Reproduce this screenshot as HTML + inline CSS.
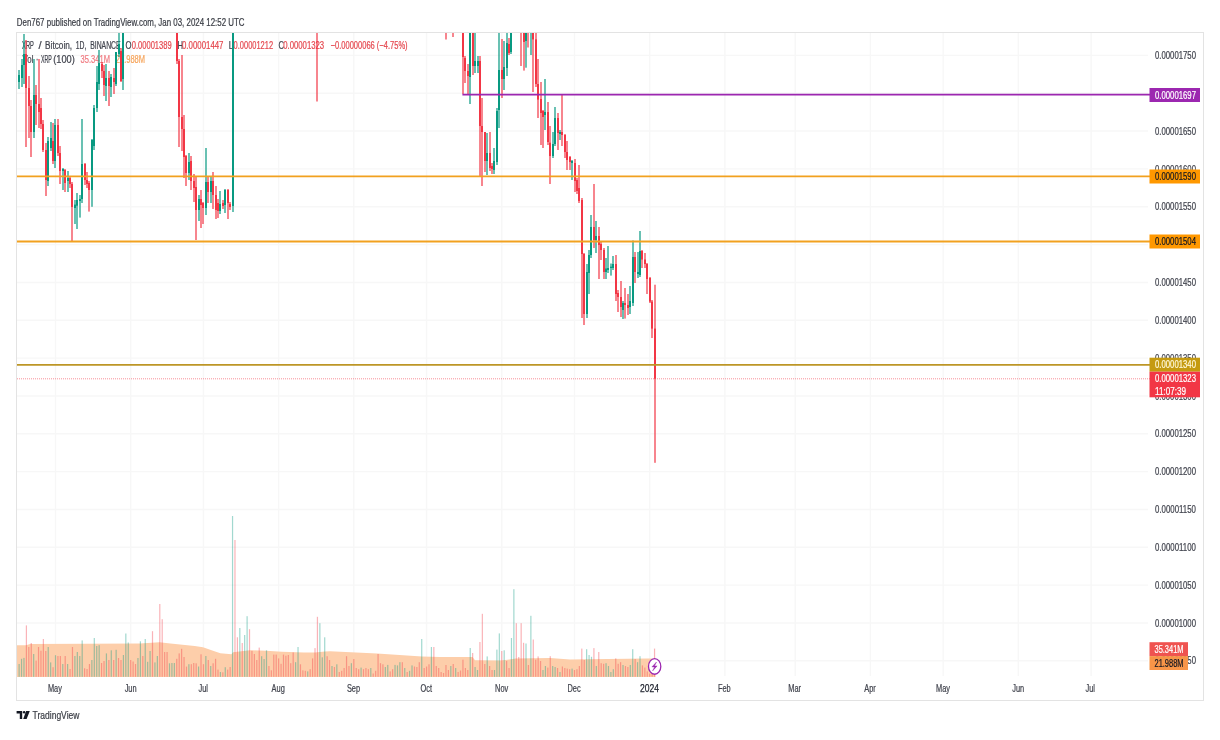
<!DOCTYPE html>
<html><head><meta charset="utf-8"><style>
html,body{margin:0;padding:0;background:#fff;width:1220px;height:740px;overflow:hidden}
svg{display:block;filter:blur(0.45px);font-family:"Liberation Sans", sans-serif}
</style></head><body>
<svg width="1220" height="740" viewBox="0 0 1220 740">
<defs><clipPath id="plotclip"><rect x="17" y="33" width="1131" height="643"/></clipPath></defs>
<rect width="1220" height="740" fill="#fff"/>
<rect x="16.5" y="32.5" width="1187" height="668" fill="none" stroke="#e3e3e3"/>
<g id="grid">
<line x1="17" y1="55.4" x2="1148" y2="55.4" stroke="#f7f7f7" stroke-width="1.4"/>
<line x1="17" y1="93.24" x2="1148" y2="93.24" stroke="#f7f7f7" stroke-width="1.4"/>
<line x1="17" y1="131.07" x2="1148" y2="131.07" stroke="#f7f7f7" stroke-width="1.4"/>
<line x1="17" y1="168.91" x2="1148" y2="168.91" stroke="#f7f7f7" stroke-width="1.4"/>
<line x1="17" y1="206.75" x2="1148" y2="206.75" stroke="#f7f7f7" stroke-width="1.4"/>
<line x1="17" y1="244.59" x2="1148" y2="244.59" stroke="#f7f7f7" stroke-width="1.4"/>
<line x1="17" y1="282.43" x2="1148" y2="282.43" stroke="#f7f7f7" stroke-width="1.4"/>
<line x1="17" y1="320.26" x2="1148" y2="320.26" stroke="#f7f7f7" stroke-width="1.4"/>
<line x1="17" y1="358.1" x2="1148" y2="358.1" stroke="#f7f7f7" stroke-width="1.4"/>
<line x1="17" y1="395.94" x2="1148" y2="395.94" stroke="#f7f7f7" stroke-width="1.4"/>
<line x1="17" y1="433.77" x2="1148" y2="433.77" stroke="#f7f7f7" stroke-width="1.4"/>
<line x1="17" y1="471.61" x2="1148" y2="471.61" stroke="#f7f7f7" stroke-width="1.4"/>
<line x1="17" y1="509.45" x2="1148" y2="509.45" stroke="#f7f7f7" stroke-width="1.4"/>
<line x1="17" y1="547.29" x2="1148" y2="547.29" stroke="#f7f7f7" stroke-width="1.4"/>
<line x1="17" y1="585.12" x2="1148" y2="585.12" stroke="#f7f7f7" stroke-width="1.4"/>
<line x1="17" y1="622.96" x2="1148" y2="622.96" stroke="#f7f7f7" stroke-width="1.4"/>
<line x1="17" y1="660.8" x2="1148" y2="660.8" stroke="#f7f7f7" stroke-width="1.4"/>
<line x1="55.5" y1="33" x2="55.5" y2="676" stroke="#f7f7f7" stroke-width="1.4"/>
<line x1="130.68" y1="33" x2="130.68" y2="676" stroke="#f7f7f7" stroke-width="1.4"/>
<line x1="203.44" y1="33" x2="203.44" y2="676" stroke="#f7f7f7" stroke-width="1.4"/>
<line x1="278.63" y1="33" x2="278.63" y2="676" stroke="#f7f7f7" stroke-width="1.4"/>
<line x1="353.81" y1="33" x2="353.81" y2="676" stroke="#f7f7f7" stroke-width="1.4"/>
<line x1="426.57" y1="33" x2="426.57" y2="676" stroke="#f7f7f7" stroke-width="1.4"/>
<line x1="501.76" y1="33" x2="501.76" y2="676" stroke="#f7f7f7" stroke-width="1.4"/>
<line x1="574.51" y1="33" x2="574.51" y2="676" stroke="#f7f7f7" stroke-width="1.4"/>
<line x1="649.7" y1="33" x2="649.7" y2="676" stroke="#f7f7f7" stroke-width="1.4"/>
<line x1="724.88" y1="33" x2="724.88" y2="676" stroke="#f7f7f7" stroke-width="1.4"/>
<line x1="795.22" y1="33" x2="795.22" y2="676" stroke="#f7f7f7" stroke-width="1.4"/>
<line x1="870.4" y1="33" x2="870.4" y2="676" stroke="#f7f7f7" stroke-width="1.4"/>
<line x1="943.16" y1="33" x2="943.16" y2="676" stroke="#f7f7f7" stroke-width="1.4"/>
<line x1="1018.34" y1="33" x2="1018.34" y2="676" stroke="#f7f7f7" stroke-width="1.4"/>
<line x1="1091.1" y1="33" x2="1091.1" y2="676" stroke="#f7f7f7" stroke-width="1.4"/>
</g>
<text x="22.1" y="48.8" font-size="10.5" fill="#40434d" text-anchor="start" font-weight="normal" textLength="11.8" lengthAdjust="spacingAndGlyphs" stroke="#40434d" stroke-width="0.22">XRP</text>
<text x="38.5" y="48.8" font-size="10.5" fill="#40434d" text-anchor="start" font-weight="normal" textLength="3.1" lengthAdjust="spacingAndGlyphs" stroke="#40434d" stroke-width="0.22">/</text>
<text x="45.1" y="48.8" font-size="10.5" fill="#40434d" text-anchor="start" font-weight="normal" textLength="27" lengthAdjust="spacingAndGlyphs" stroke="#40434d" stroke-width="0.22">Bitcoin,</text>
<text x="75.8" y="48.8" font-size="10.5" fill="#40434d" text-anchor="start" font-weight="normal" textLength="10.6" lengthAdjust="spacingAndGlyphs" stroke="#40434d" stroke-width="0.22">1D,</text>
<text x="90.2" y="48.8" font-size="10.5" fill="#40434d" text-anchor="start" font-weight="normal" textLength="30.4" lengthAdjust="spacingAndGlyphs" stroke="#40434d" stroke-width="0.22">BINANCE</text>
<text x="125.5" y="48.8" font-size="10.5" fill="#40434d" text-anchor="start" font-weight="normal" textLength="6" lengthAdjust="spacingAndGlyphs" stroke="#40434d" stroke-width="0.22">O</text>
<text x="131.7" y="48.8" font-size="10.5" fill="#e5484f" text-anchor="start" font-weight="normal" textLength="40" lengthAdjust="spacingAndGlyphs" stroke="#e5484f" stroke-width="0.22">0.00001389</text>
<text x="177.5" y="48.8" font-size="10.5" fill="#40434d" text-anchor="start" font-weight="normal" textLength="5.5" lengthAdjust="spacingAndGlyphs" stroke="#40434d" stroke-width="0.22">H</text>
<text x="182" y="48.8" font-size="10.5" fill="#e5484f" text-anchor="start" font-weight="normal" textLength="41.5" lengthAdjust="spacingAndGlyphs" stroke="#e5484f" stroke-width="0.22">0.00001447</text>
<text x="228.8" y="48.8" font-size="10.5" fill="#40434d" text-anchor="start" font-weight="normal" textLength="4.5" lengthAdjust="spacingAndGlyphs" stroke="#40434d" stroke-width="0.22">L</text>
<text x="233.6" y="48.8" font-size="10.5" fill="#e5484f" text-anchor="start" font-weight="normal" textLength="39.5" lengthAdjust="spacingAndGlyphs" stroke="#e5484f" stroke-width="0.22">0.00001212</text>
<text x="278.5" y="48.8" font-size="10.5" fill="#40434d" text-anchor="start" font-weight="normal" textLength="5.5" lengthAdjust="spacingAndGlyphs" stroke="#40434d" stroke-width="0.22">C</text>
<text x="283.2" y="48.8" font-size="10.5" fill="#e5484f" text-anchor="start" font-weight="normal" textLength="41" lengthAdjust="spacingAndGlyphs" stroke="#e5484f" stroke-width="0.22">0.00001323</text>
<text x="330.6" y="48.8" font-size="10.5" fill="#e5484f" text-anchor="start" font-weight="normal" textLength="77" lengthAdjust="spacingAndGlyphs" stroke="#e5484f" stroke-width="0.22">−0.00000066 (−4.75%)</text>
<text x="22.5" y="63.1" font-size="10.5" fill="#40434d" text-anchor="start" font-weight="normal" textLength="10.9" lengthAdjust="spacingAndGlyphs" stroke="#40434d" stroke-width="0.22">Vol</text>
<text x="35.9" y="63.1" font-size="10.5" fill="#40434d" text-anchor="start" font-weight="normal" textLength="2.2" lengthAdjust="spacingAndGlyphs" stroke="#40434d" stroke-width="0.22">·</text>
<text x="40.9" y="63.1" font-size="10.5" fill="#40434d" text-anchor="start" font-weight="normal" textLength="10.8" lengthAdjust="spacingAndGlyphs" stroke="#40434d" stroke-width="0.22">XRP</text>
<text x="53.2" y="63.1" font-size="10.5" fill="#40434d" text-anchor="start" font-weight="normal" textLength="21.6" lengthAdjust="spacingAndGlyphs" stroke="#40434d" stroke-width="0.22">(100)</text>
<text x="80.6" y="63.1" font-size="10.5" fill="#f07a80" text-anchor="start" font-weight="normal" textLength="29.4" lengthAdjust="spacingAndGlyphs" stroke="#f07a80" stroke-width="0.22">35.341M</text>
<text x="115.8" y="63.1" font-size="10.5" fill="#f6a45a" text-anchor="start" font-weight="normal" textLength="29.2" lengthAdjust="spacingAndGlyphs" stroke="#f6a45a" stroke-width="0.22">21.988M</text>
<g id="vol">
<polygon points="17,677 17,645.2 26,645.2 30,644 140,643.5 159.5,642.3 170.4,643.5 194.7,646 203,647.2 213,650.8 220.3,653.3 231.5,654.2 233,652.2 250,650.3 266,650.8 282,651.7 304,652.4 315,652.4 325,651.4 330,651.3 377,653.6 422,656.4 440,657.0 472.5,657.0 475,660.3 500,660.5 507.6,659.7 515.7,658.4 550,657.9 570,659.5 608,659 647,658.6 655.5,658.6 655.5,677" fill="#fdceaa"/>
<rect x="18.52" y="664.0" width="1.2" height="12.8" fill="rgba(8,153,129,0.38)"/>
<rect x="20.95" y="658.8" width="1.2" height="18.0" fill="rgba(8,153,129,0.38)"/>
<rect x="23.37" y="657.9" width="1.2" height="18.9" fill="rgba(8,153,129,0.38)"/>
<rect x="25.80" y="625.4" width="1.2" height="51.4" fill="rgba(242,54,69,0.38)"/>
<rect x="28.22" y="647.0" width="1.2" height="29.8" fill="rgba(242,54,69,0.38)"/>
<rect x="30.65" y="643.0" width="1.2" height="33.8" fill="rgba(242,54,69,0.38)"/>
<rect x="33.07" y="654.0" width="1.2" height="22.8" fill="rgba(8,153,129,0.38)"/>
<rect x="35.50" y="660.6" width="1.2" height="16.2" fill="rgba(242,54,69,0.38)"/>
<rect x="37.92" y="647.0" width="1.2" height="29.8" fill="rgba(242,54,69,0.38)"/>
<rect x="40.35" y="650.7" width="1.2" height="26.1" fill="rgba(242,54,69,0.38)"/>
<rect x="42.77" y="639.0" width="1.2" height="37.8" fill="rgba(242,54,69,0.38)"/>
<rect x="45.20" y="651.0" width="1.2" height="25.8" fill="rgba(242,54,69,0.38)"/>
<rect x="47.62" y="647.0" width="1.2" height="29.8" fill="rgba(8,153,129,0.38)"/>
<rect x="50.05" y="662.4" width="1.2" height="14.4" fill="rgba(8,153,129,0.38)"/>
<rect x="52.47" y="667.2" width="1.2" height="9.6" fill="rgba(242,54,69,0.38)"/>
<rect x="54.90" y="655.2" width="1.2" height="21.6" fill="rgba(8,153,129,0.38)"/>
<rect x="57.33" y="656.0" width="1.2" height="20.8" fill="rgba(242,54,69,0.38)"/>
<rect x="59.75" y="656.0" width="1.2" height="20.8" fill="rgba(242,54,69,0.38)"/>
<rect x="62.18" y="664.0" width="1.2" height="12.8" fill="rgba(8,153,129,0.38)"/>
<rect x="64.60" y="656.0" width="1.2" height="20.8" fill="rgba(242,54,69,0.38)"/>
<rect x="67.03" y="664.0" width="1.2" height="12.8" fill="rgba(8,153,129,0.38)"/>
<rect x="69.45" y="669.0" width="1.2" height="7.8" fill="rgba(242,54,69,0.38)"/>
<rect x="71.88" y="647.0" width="1.2" height="29.8" fill="rgba(242,54,69,0.38)"/>
<rect x="74.30" y="656.0" width="1.2" height="20.8" fill="rgba(8,153,129,0.38)"/>
<rect x="76.73" y="652.0" width="1.2" height="24.8" fill="rgba(8,153,129,0.38)"/>
<rect x="79.15" y="656.0" width="1.2" height="20.8" fill="rgba(8,153,129,0.38)"/>
<rect x="81.58" y="640.4" width="1.2" height="36.4" fill="rgba(8,153,129,0.38)"/>
<rect x="84.00" y="668.3" width="1.2" height="8.5" fill="rgba(242,54,69,0.38)"/>
<rect x="86.43" y="669.0" width="1.2" height="7.8" fill="rgba(242,54,69,0.38)"/>
<rect x="88.85" y="664.0" width="1.2" height="12.8" fill="rgba(242,54,69,0.38)"/>
<rect x="91.28" y="660.0" width="1.2" height="16.8" fill="rgba(8,153,129,0.38)"/>
<rect x="93.70" y="638.0" width="1.2" height="38.8" fill="rgba(8,153,129,0.38)"/>
<rect x="96.13" y="646.0" width="1.2" height="30.8" fill="rgba(8,153,129,0.38)"/>
<rect x="98.56" y="645.2" width="1.2" height="31.6" fill="rgba(8,153,129,0.38)"/>
<rect x="100.98" y="663.0" width="1.2" height="13.8" fill="rgba(242,54,69,0.38)"/>
<rect x="103.41" y="661.0" width="1.2" height="15.8" fill="rgba(242,54,69,0.38)"/>
<rect x="105.83" y="653.4" width="1.2" height="23.4" fill="rgba(8,153,129,0.38)"/>
<rect x="108.26" y="660.0" width="1.2" height="16.8" fill="rgba(242,54,69,0.38)"/>
<rect x="110.68" y="650.3" width="1.2" height="26.5" fill="rgba(8,153,129,0.38)"/>
<rect x="113.11" y="660.0" width="1.2" height="16.8" fill="rgba(242,54,69,0.38)"/>
<rect x="115.53" y="649.8" width="1.2" height="27.0" fill="rgba(8,153,129,0.38)"/>
<rect x="117.96" y="658.0" width="1.2" height="18.8" fill="rgba(242,54,69,0.38)"/>
<rect x="120.38" y="660.0" width="1.2" height="16.8" fill="rgba(242,54,69,0.38)"/>
<rect x="122.81" y="655.0" width="1.2" height="21.8" fill="rgba(8,153,129,0.38)"/>
<rect x="125.23" y="633.5" width="1.2" height="43.3" fill="rgba(8,153,129,0.38)"/>
<rect x="127.66" y="642.5" width="1.2" height="34.3" fill="rgba(8,153,129,0.38)"/>
<rect x="130.08" y="660.0" width="1.2" height="16.8" fill="rgba(242,54,69,0.38)"/>
<rect x="132.51" y="661.5" width="1.2" height="15.3" fill="rgba(242,54,69,0.38)"/>
<rect x="134.93" y="664.0" width="1.2" height="12.8" fill="rgba(242,54,69,0.38)"/>
<rect x="137.36" y="658.0" width="1.2" height="18.8" fill="rgba(8,153,129,0.38)"/>
<rect x="139.79" y="641.3" width="1.2" height="35.5" fill="rgba(8,153,129,0.38)"/>
<rect x="142.21" y="656.0" width="1.2" height="20.8" fill="rgba(242,54,69,0.38)"/>
<rect x="144.64" y="639.0" width="1.2" height="37.8" fill="rgba(8,153,129,0.38)"/>
<rect x="147.06" y="661.8" width="1.2" height="15.0" fill="rgba(8,153,129,0.38)"/>
<rect x="149.49" y="651.0" width="1.2" height="25.8" fill="rgba(8,153,129,0.38)"/>
<rect x="151.91" y="631.2" width="1.2" height="45.6" fill="rgba(242,54,69,0.38)"/>
<rect x="154.34" y="662.4" width="1.2" height="14.4" fill="rgba(8,153,129,0.38)"/>
<rect x="156.76" y="656.0" width="1.2" height="20.8" fill="rgba(8,153,129,0.38)"/>
<rect x="159.19" y="604.0" width="1.2" height="72.8" fill="rgba(242,54,69,0.38)"/>
<rect x="161.61" y="619.2" width="1.2" height="57.6" fill="rgba(242,54,69,0.38)"/>
<rect x="164.04" y="652.0" width="1.2" height="24.8" fill="rgba(242,54,69,0.38)"/>
<rect x="166.46" y="652.0" width="1.2" height="24.8" fill="rgba(242,54,69,0.38)"/>
<rect x="168.89" y="663.3" width="1.2" height="13.5" fill="rgba(8,153,129,0.38)"/>
<rect x="171.31" y="663.0" width="1.2" height="13.8" fill="rgba(8,153,129,0.38)"/>
<rect x="173.74" y="663.0" width="1.2" height="13.8" fill="rgba(8,153,129,0.38)"/>
<rect x="176.16" y="658.8" width="1.2" height="18.0" fill="rgba(242,54,69,0.38)"/>
<rect x="178.59" y="653.4" width="1.2" height="23.4" fill="rgba(242,54,69,0.38)"/>
<rect x="181.02" y="648.8" width="1.2" height="28.0" fill="rgba(242,54,69,0.38)"/>
<rect x="183.44" y="657.0" width="1.2" height="19.8" fill="rgba(242,54,69,0.38)"/>
<rect x="185.87" y="666.6" width="1.2" height="10.2" fill="rgba(242,54,69,0.38)"/>
<rect x="188.29" y="664.2" width="1.2" height="12.6" fill="rgba(8,153,129,0.38)"/>
<rect x="190.72" y="664.2" width="1.2" height="12.6" fill="rgba(242,54,69,0.38)"/>
<rect x="193.14" y="663.0" width="1.2" height="13.8" fill="rgba(242,54,69,0.38)"/>
<rect x="195.57" y="663.3" width="1.2" height="13.5" fill="rgba(242,54,69,0.38)"/>
<rect x="197.99" y="666.5" width="1.2" height="10.3" fill="rgba(8,153,129,0.38)"/>
<rect x="200.42" y="654.3" width="1.2" height="22.5" fill="rgba(242,54,69,0.38)"/>
<rect x="202.84" y="664.2" width="1.2" height="12.6" fill="rgba(242,54,69,0.38)"/>
<rect x="205.27" y="656.0" width="1.2" height="20.8" fill="rgba(8,153,129,0.38)"/>
<rect x="207.69" y="660.0" width="1.2" height="16.8" fill="rgba(242,54,69,0.38)"/>
<rect x="210.12" y="666.0" width="1.2" height="10.8" fill="rgba(8,153,129,0.38)"/>
<rect x="212.54" y="663.3" width="1.2" height="13.5" fill="rgba(242,54,69,0.38)"/>
<rect x="214.97" y="658.8" width="1.2" height="18.0" fill="rgba(242,54,69,0.38)"/>
<rect x="217.40" y="669.6" width="1.2" height="7.2" fill="rgba(242,54,69,0.38)"/>
<rect x="219.82" y="672.0" width="1.2" height="4.8" fill="rgba(8,153,129,0.38)"/>
<rect x="222.25" y="672.3" width="1.2" height="4.5" fill="rgba(242,54,69,0.38)"/>
<rect x="224.67" y="667.2" width="1.2" height="9.6" fill="rgba(8,153,129,0.38)"/>
<rect x="227.10" y="669.6" width="1.2" height="7.2" fill="rgba(242,54,69,0.38)"/>
<rect x="229.52" y="667.0" width="1.2" height="9.8" fill="rgba(242,54,69,0.38)"/>
<rect x="231.95" y="516.0" width="1.2" height="160.8" fill="rgba(8,153,129,0.38)"/>
<rect x="234.37" y="540.0" width="1.2" height="136.8" fill="rgba(242,54,69,0.38)"/>
<rect x="236.80" y="637.3" width="1.2" height="39.5" fill="rgba(242,54,69,0.38)"/>
<rect x="239.22" y="628.0" width="1.2" height="48.8" fill="rgba(8,153,129,0.38)"/>
<rect x="241.65" y="643.0" width="1.2" height="33.8" fill="rgba(242,54,69,0.38)"/>
<rect x="244.07" y="635.0" width="1.2" height="41.8" fill="rgba(8,153,129,0.38)"/>
<rect x="246.50" y="616.2" width="1.2" height="60.6" fill="rgba(8,153,129,0.38)"/>
<rect x="248.92" y="629.2" width="1.2" height="47.6" fill="rgba(242,54,69,0.38)"/>
<rect x="251.35" y="650.8" width="1.2" height="26.0" fill="rgba(242,54,69,0.38)"/>
<rect x="253.77" y="654.0" width="1.2" height="22.8" fill="rgba(242,54,69,0.38)"/>
<rect x="256.20" y="660.0" width="1.2" height="16.8" fill="rgba(242,54,69,0.38)"/>
<rect x="258.63" y="647.6" width="1.2" height="29.2" fill="rgba(242,54,69,0.38)"/>
<rect x="261.05" y="656.2" width="1.2" height="20.6" fill="rgba(8,153,129,0.38)"/>
<rect x="263.48" y="659.0" width="1.2" height="17.8" fill="rgba(8,153,129,0.38)"/>
<rect x="265.90" y="650.3" width="1.2" height="26.5" fill="rgba(8,153,129,0.38)"/>
<rect x="268.33" y="666.0" width="1.2" height="10.8" fill="rgba(242,54,69,0.38)"/>
<rect x="270.75" y="670.3" width="1.2" height="6.5" fill="rgba(242,54,69,0.38)"/>
<rect x="273.18" y="654.6" width="1.2" height="22.2" fill="rgba(242,54,69,0.38)"/>
<rect x="275.60" y="654.6" width="1.2" height="22.2" fill="rgba(242,54,69,0.38)"/>
<rect x="278.03" y="658.4" width="1.2" height="18.4" fill="rgba(242,54,69,0.38)"/>
<rect x="280.45" y="663.8" width="1.2" height="13.0" fill="rgba(242,54,69,0.38)"/>
<rect x="282.88" y="654.6" width="1.2" height="22.2" fill="rgba(242,54,69,0.38)"/>
<rect x="285.30" y="655.7" width="1.2" height="21.1" fill="rgba(242,54,69,0.38)"/>
<rect x="287.73" y="655.0" width="1.2" height="21.8" fill="rgba(242,54,69,0.38)"/>
<rect x="290.15" y="663.2" width="1.2" height="13.6" fill="rgba(242,54,69,0.38)"/>
<rect x="292.58" y="652.4" width="1.2" height="24.4" fill="rgba(242,54,69,0.38)"/>
<rect x="295.00" y="662.2" width="1.2" height="14.6" fill="rgba(8,153,129,0.38)"/>
<rect x="297.43" y="647.0" width="1.2" height="29.8" fill="rgba(8,153,129,0.38)"/>
<rect x="299.86" y="664.3" width="1.2" height="12.5" fill="rgba(242,54,69,0.38)"/>
<rect x="302.28" y="670.3" width="1.2" height="6.5" fill="rgba(242,54,69,0.38)"/>
<rect x="304.71" y="670.8" width="1.2" height="6.0" fill="rgba(242,54,69,0.38)"/>
<rect x="307.13" y="671.4" width="1.2" height="5.4" fill="rgba(8,153,129,0.38)"/>
<rect x="309.56" y="669.2" width="1.2" height="7.6" fill="rgba(242,54,69,0.38)"/>
<rect x="311.98" y="658.4" width="1.2" height="18.4" fill="rgba(242,54,69,0.38)"/>
<rect x="314.41" y="648.1" width="1.2" height="28.7" fill="rgba(242,54,69,0.38)"/>
<rect x="316.83" y="616.8" width="1.2" height="60.0" fill="rgba(242,54,69,0.38)"/>
<rect x="319.26" y="623.2" width="1.2" height="53.6" fill="rgba(8,153,129,0.38)"/>
<rect x="321.68" y="657.3" width="1.2" height="19.5" fill="rgba(8,153,129,0.38)"/>
<rect x="324.11" y="637.3" width="1.2" height="39.5" fill="rgba(8,153,129,0.38)"/>
<rect x="326.53" y="656.2" width="1.2" height="20.6" fill="rgba(242,54,69,0.38)"/>
<rect x="328.96" y="660.0" width="1.2" height="16.8" fill="rgba(242,54,69,0.38)"/>
<rect x="331.38" y="666.0" width="1.2" height="10.8" fill="rgba(8,153,129,0.38)"/>
<rect x="333.81" y="667.0" width="1.2" height="9.8" fill="rgba(242,54,69,0.38)"/>
<rect x="336.23" y="664.3" width="1.2" height="12.5" fill="rgba(8,153,129,0.38)"/>
<rect x="338.66" y="672.0" width="1.2" height="4.8" fill="rgba(242,54,69,0.38)"/>
<rect x="341.09" y="670.8" width="1.2" height="6.0" fill="rgba(242,54,69,0.38)"/>
<rect x="343.51" y="668.0" width="1.2" height="8.8" fill="rgba(242,54,69,0.38)"/>
<rect x="345.94" y="656.2" width="1.2" height="20.6" fill="rgba(242,54,69,0.38)"/>
<rect x="348.36" y="666.0" width="1.2" height="10.8" fill="rgba(242,54,69,0.38)"/>
<rect x="350.79" y="663.2" width="1.2" height="13.6" fill="rgba(8,153,129,0.38)"/>
<rect x="353.21" y="659.0" width="1.2" height="17.8" fill="rgba(242,54,69,0.38)"/>
<rect x="355.64" y="668.0" width="1.2" height="8.8" fill="rgba(242,54,69,0.38)"/>
<rect x="358.06" y="669.2" width="1.2" height="7.6" fill="rgba(242,54,69,0.38)"/>
<rect x="360.49" y="667.6" width="1.2" height="9.2" fill="rgba(8,153,129,0.38)"/>
<rect x="362.91" y="669.2" width="1.2" height="7.6" fill="rgba(242,54,69,0.38)"/>
<rect x="365.34" y="668.0" width="1.2" height="8.8" fill="rgba(242,54,69,0.38)"/>
<rect x="367.76" y="669.2" width="1.2" height="7.6" fill="rgba(242,54,69,0.38)"/>
<rect x="370.19" y="668.0" width="1.2" height="8.8" fill="rgba(8,153,129,0.38)"/>
<rect x="372.61" y="673.5" width="1.2" height="3.3" fill="rgba(242,54,69,0.38)"/>
<rect x="375.04" y="670.8" width="1.2" height="6.0" fill="rgba(242,54,69,0.38)"/>
<rect x="377.46" y="654.0" width="1.2" height="22.8" fill="rgba(242,54,69,0.38)"/>
<rect x="379.89" y="663.2" width="1.2" height="13.6" fill="rgba(242,54,69,0.38)"/>
<rect x="382.32" y="664.3" width="1.2" height="12.5" fill="rgba(242,54,69,0.38)"/>
<rect x="384.74" y="667.0" width="1.2" height="9.8" fill="rgba(8,153,129,0.38)"/>
<rect x="387.17" y="664.9" width="1.2" height="11.9" fill="rgba(8,153,129,0.38)"/>
<rect x="389.59" y="671.4" width="1.2" height="5.4" fill="rgba(242,54,69,0.38)"/>
<rect x="392.02" y="669.2" width="1.2" height="7.6" fill="rgba(242,54,69,0.38)"/>
<rect x="394.44" y="664.9" width="1.2" height="11.9" fill="rgba(8,153,129,0.38)"/>
<rect x="396.87" y="665.4" width="1.2" height="11.4" fill="rgba(8,153,129,0.38)"/>
<rect x="399.29" y="662.2" width="1.2" height="14.6" fill="rgba(8,153,129,0.38)"/>
<rect x="401.72" y="662.2" width="1.2" height="14.6" fill="rgba(242,54,69,0.38)"/>
<rect x="404.14" y="668.0" width="1.2" height="8.8" fill="rgba(8,153,129,0.38)"/>
<rect x="406.57" y="672.0" width="1.2" height="4.8" fill="rgba(242,54,69,0.38)"/>
<rect x="408.99" y="670.8" width="1.2" height="6.0" fill="rgba(8,153,129,0.38)"/>
<rect x="411.42" y="665.4" width="1.2" height="11.4" fill="rgba(8,153,129,0.38)"/>
<rect x="413.84" y="666.5" width="1.2" height="10.3" fill="rgba(242,54,69,0.38)"/>
<rect x="416.27" y="667.0" width="1.2" height="9.8" fill="rgba(242,54,69,0.38)"/>
<rect x="418.69" y="662.2" width="1.2" height="14.6" fill="rgba(242,54,69,0.38)"/>
<rect x="421.12" y="639.0" width="1.2" height="37.8" fill="rgba(8,153,129,0.38)"/>
<rect x="423.55" y="668.0" width="1.2" height="8.8" fill="rgba(242,54,69,0.38)"/>
<rect x="425.97" y="666.5" width="1.2" height="10.3" fill="rgba(242,54,69,0.38)"/>
<rect x="428.40" y="664.3" width="1.2" height="12.5" fill="rgba(242,54,69,0.38)"/>
<rect x="430.82" y="647.0" width="1.2" height="29.8" fill="rgba(8,153,129,0.38)"/>
<rect x="433.25" y="647.0" width="1.2" height="29.8" fill="rgba(242,54,69,0.38)"/>
<rect x="435.67" y="666.0" width="1.2" height="10.8" fill="rgba(242,54,69,0.38)"/>
<rect x="438.10" y="668.0" width="1.2" height="8.8" fill="rgba(242,54,69,0.38)"/>
<rect x="440.52" y="672.0" width="1.2" height="4.8" fill="rgba(242,54,69,0.38)"/>
<rect x="442.95" y="673.0" width="1.2" height="3.8" fill="rgba(242,54,69,0.38)"/>
<rect x="445.37" y="665.0" width="1.2" height="11.8" fill="rgba(242,54,69,0.38)"/>
<rect x="447.80" y="670.0" width="1.2" height="6.8" fill="rgba(242,54,69,0.38)"/>
<rect x="450.22" y="666.0" width="1.2" height="10.8" fill="rgba(8,153,129,0.38)"/>
<rect x="452.65" y="664.0" width="1.2" height="12.8" fill="rgba(242,54,69,0.38)"/>
<rect x="455.07" y="668.0" width="1.2" height="8.8" fill="rgba(8,153,129,0.38)"/>
<rect x="457.50" y="672.0" width="1.2" height="4.8" fill="rgba(242,54,69,0.38)"/>
<rect x="459.93" y="670.5" width="1.2" height="6.3" fill="rgba(242,54,69,0.38)"/>
<rect x="462.35" y="659.7" width="1.2" height="17.1" fill="rgba(242,54,69,0.38)"/>
<rect x="464.78" y="668.0" width="1.2" height="8.8" fill="rgba(242,54,69,0.38)"/>
<rect x="467.20" y="670.0" width="1.2" height="6.8" fill="rgba(242,54,69,0.38)"/>
<rect x="469.63" y="648.0" width="1.2" height="28.8" fill="rgba(8,153,129,0.38)"/>
<rect x="472.05" y="653.0" width="1.2" height="23.8" fill="rgba(242,54,69,0.38)"/>
<rect x="474.48" y="667.0" width="1.2" height="9.8" fill="rgba(8,153,129,0.38)"/>
<rect x="476.90" y="670.0" width="1.2" height="6.8" fill="rgba(8,153,129,0.38)"/>
<rect x="479.33" y="642.0" width="1.2" height="34.8" fill="rgba(242,54,69,0.38)"/>
<rect x="481.75" y="613.8" width="1.2" height="63.0" fill="rgba(242,54,69,0.38)"/>
<rect x="484.18" y="664.0" width="1.2" height="12.8" fill="rgba(242,54,69,0.38)"/>
<rect x="486.60" y="656.4" width="1.2" height="20.4" fill="rgba(8,153,129,0.38)"/>
<rect x="489.03" y="666.0" width="1.2" height="10.8" fill="rgba(242,54,69,0.38)"/>
<rect x="491.45" y="670.0" width="1.2" height="6.8" fill="rgba(242,54,69,0.38)"/>
<rect x="493.88" y="670.0" width="1.2" height="6.8" fill="rgba(8,153,129,0.38)"/>
<rect x="496.30" y="649.6" width="1.2" height="27.2" fill="rgba(8,153,129,0.38)"/>
<rect x="498.73" y="633.4" width="1.2" height="43.4" fill="rgba(8,153,129,0.38)"/>
<rect x="501.16" y="651.0" width="1.2" height="25.8" fill="rgba(242,54,69,0.38)"/>
<rect x="503.58" y="650.3" width="1.2" height="26.5" fill="rgba(8,153,129,0.38)"/>
<rect x="506.01" y="661.0" width="1.2" height="15.8" fill="rgba(242,54,69,0.38)"/>
<rect x="508.43" y="668.0" width="1.2" height="8.8" fill="rgba(242,54,69,0.38)"/>
<rect x="510.86" y="638.0" width="1.2" height="38.8" fill="rgba(8,153,129,0.38)"/>
<rect x="513.28" y="589.2" width="1.2" height="87.6" fill="rgba(8,153,129,0.38)"/>
<rect x="515.71" y="623.2" width="1.2" height="53.6" fill="rgba(242,54,69,0.38)"/>
<rect x="518.13" y="657.0" width="1.2" height="19.8" fill="rgba(242,54,69,0.38)"/>
<rect x="520.56" y="623.2" width="1.2" height="53.6" fill="rgba(242,54,69,0.38)"/>
<rect x="522.98" y="642.8" width="1.2" height="34.0" fill="rgba(242,54,69,0.38)"/>
<rect x="525.41" y="643.5" width="1.2" height="33.3" fill="rgba(8,153,129,0.38)"/>
<rect x="527.83" y="665.0" width="1.2" height="11.8" fill="rgba(242,54,69,0.38)"/>
<rect x="530.26" y="615.8" width="1.2" height="61.0" fill="rgba(8,153,129,0.38)"/>
<rect x="532.68" y="639.5" width="1.2" height="37.3" fill="rgba(242,54,69,0.38)"/>
<rect x="535.11" y="659.7" width="1.2" height="17.1" fill="rgba(242,54,69,0.38)"/>
<rect x="537.53" y="656.4" width="1.2" height="20.4" fill="rgba(242,54,69,0.38)"/>
<rect x="539.96" y="661.0" width="1.2" height="15.8" fill="rgba(242,54,69,0.38)"/>
<rect x="542.39" y="670.0" width="1.2" height="6.8" fill="rgba(8,153,129,0.38)"/>
<rect x="544.81" y="666.0" width="1.2" height="10.8" fill="rgba(8,153,129,0.38)"/>
<rect x="547.24" y="667.6" width="1.2" height="9.2" fill="rgba(242,54,69,0.38)"/>
<rect x="549.66" y="656.2" width="1.2" height="20.6" fill="rgba(242,54,69,0.38)"/>
<rect x="552.09" y="666.0" width="1.2" height="10.8" fill="rgba(8,153,129,0.38)"/>
<rect x="554.51" y="667.0" width="1.2" height="9.8" fill="rgba(8,153,129,0.38)"/>
<rect x="556.94" y="668.0" width="1.2" height="8.8" fill="rgba(242,54,69,0.38)"/>
<rect x="559.36" y="672.0" width="1.2" height="4.8" fill="rgba(8,153,129,0.38)"/>
<rect x="561.79" y="666.5" width="1.2" height="10.3" fill="rgba(242,54,69,0.38)"/>
<rect x="564.21" y="668.0" width="1.2" height="8.8" fill="rgba(242,54,69,0.38)"/>
<rect x="566.64" y="668.6" width="1.2" height="8.2" fill="rgba(242,54,69,0.38)"/>
<rect x="569.06" y="669.2" width="1.2" height="7.6" fill="rgba(242,54,69,0.38)"/>
<rect x="571.49" y="668.6" width="1.2" height="8.2" fill="rgba(8,153,129,0.38)"/>
<rect x="573.91" y="670.0" width="1.2" height="6.8" fill="rgba(242,54,69,0.38)"/>
<rect x="576.34" y="669.2" width="1.2" height="7.6" fill="rgba(242,54,69,0.38)"/>
<rect x="578.76" y="666.0" width="1.2" height="10.8" fill="rgba(242,54,69,0.38)"/>
<rect x="581.19" y="648.6" width="1.2" height="28.2" fill="rgba(242,54,69,0.38)"/>
<rect x="583.62" y="660.0" width="1.2" height="16.8" fill="rgba(242,54,69,0.38)"/>
<rect x="586.04" y="649.2" width="1.2" height="27.6" fill="rgba(8,153,129,0.38)"/>
<rect x="588.47" y="655.0" width="1.2" height="21.8" fill="rgba(8,153,129,0.38)"/>
<rect x="590.89" y="656.8" width="1.2" height="20.0" fill="rgba(8,153,129,0.38)"/>
<rect x="593.32" y="648.1" width="1.2" height="28.7" fill="rgba(242,54,69,0.38)"/>
<rect x="595.74" y="666.0" width="1.2" height="10.8" fill="rgba(8,153,129,0.38)"/>
<rect x="598.17" y="652.0" width="1.2" height="24.8" fill="rgba(242,54,69,0.38)"/>
<rect x="600.59" y="663.2" width="1.2" height="13.6" fill="rgba(242,54,69,0.38)"/>
<rect x="603.02" y="663.8" width="1.2" height="13.0" fill="rgba(242,54,69,0.38)"/>
<rect x="605.44" y="663.2" width="1.2" height="13.6" fill="rgba(8,153,129,0.38)"/>
<rect x="607.87" y="666.0" width="1.2" height="10.8" fill="rgba(8,153,129,0.38)"/>
<rect x="610.29" y="672.0" width="1.2" height="4.8" fill="rgba(8,153,129,0.38)"/>
<rect x="612.72" y="669.2" width="1.2" height="7.6" fill="rgba(8,153,129,0.38)"/>
<rect x="615.14" y="658.4" width="1.2" height="18.4" fill="rgba(242,54,69,0.38)"/>
<rect x="617.57" y="663.8" width="1.2" height="13.0" fill="rgba(242,54,69,0.38)"/>
<rect x="619.99" y="662.2" width="1.2" height="14.6" fill="rgba(242,54,69,0.38)"/>
<rect x="622.42" y="665.0" width="1.2" height="11.8" fill="rgba(8,153,129,0.38)"/>
<rect x="624.85" y="666.0" width="1.2" height="10.8" fill="rgba(242,54,69,0.38)"/>
<rect x="627.27" y="667.0" width="1.2" height="9.8" fill="rgba(242,54,69,0.38)"/>
<rect x="629.70" y="665.0" width="1.2" height="11.8" fill="rgba(8,153,129,0.38)"/>
<rect x="632.12" y="649.2" width="1.2" height="27.6" fill="rgba(8,153,129,0.38)"/>
<rect x="634.55" y="659.0" width="1.2" height="17.8" fill="rgba(242,54,69,0.38)"/>
<rect x="636.97" y="662.2" width="1.2" height="14.6" fill="rgba(8,153,129,0.38)"/>
<rect x="639.40" y="656.2" width="1.2" height="20.6" fill="rgba(8,153,129,0.38)"/>
<rect x="641.82" y="665.4" width="1.2" height="11.4" fill="rgba(242,54,69,0.38)"/>
<rect x="644.25" y="667.6" width="1.2" height="9.2" fill="rgba(242,54,69,0.38)"/>
<rect x="646.67" y="671.4" width="1.2" height="5.4" fill="rgba(242,54,69,0.38)"/>
<rect x="649.10" y="673.5" width="1.2" height="3.3" fill="rgba(242,54,69,0.38)"/>
<rect x="651.52" y="671.0" width="1.2" height="5.8" fill="rgba(242,54,69,0.38)"/>
<rect x="653.95" y="648.6" width="1.2" height="28.2" fill="rgba(242,54,69,0.38)"/>
</g>
<g id="candles" clip-path="url(#plotclip)">
<rect x="18.4" y="70.0" width="1.2" height="19.0" fill="#089981"/>
<rect x="18" y="75.0" width="2" height="7.0" fill="#089981"/>
<rect x="21.4" y="59.0" width="1.2" height="28.0" fill="#089981"/>
<rect x="21" y="65.0" width="2" height="13.0" fill="#089981"/>
<rect x="23.4" y="34.0" width="1.2" height="50.0" fill="#089981"/>
<rect x="23" y="54.0" width="2" height="11.0" fill="#089981"/>
<rect x="25.4" y="40.0" width="1.2" height="107.0" fill="#f23645"/>
<rect x="25" y="54.0" width="2" height="34.0" fill="#f23645"/>
<rect x="28.4" y="76.0" width="1.2" height="62.0" fill="#f23645"/>
<rect x="28" y="88.0" width="2" height="18.0" fill="#f23645"/>
<rect x="30.4" y="100.0" width="1.2" height="57.0" fill="#f23645"/>
<rect x="30" y="106.0" width="2" height="26.0" fill="#f23645"/>
<rect x="33.4" y="59.0" width="1.2" height="79.0" fill="#089981"/>
<rect x="33" y="95.0" width="2" height="37.0" fill="#089981"/>
<rect x="35.4" y="85.0" width="1.2" height="40.0" fill="#f23645"/>
<rect x="35" y="95.0" width="2" height="9.0" fill="#f23645"/>
<rect x="38.4" y="59.0" width="1.2" height="69.0" fill="#f23645"/>
<rect x="38" y="104.0" width="2" height="8.0" fill="#f23645"/>
<rect x="40.4" y="98.0" width="1.2" height="31.0" fill="#f23645"/>
<rect x="40" y="108.0" width="2" height="16.0" fill="#f23645"/>
<rect x="42.4" y="120.0" width="1.2" height="32.0" fill="#f23645"/>
<rect x="42" y="124.0" width="2" height="26.0" fill="#f23645"/>
<rect x="45.4" y="143.0" width="1.2" height="53.0" fill="#f23645"/>
<rect x="45" y="150.0" width="2" height="30.0" fill="#f23645"/>
<rect x="47.4" y="137.0" width="1.2" height="49.0" fill="#089981"/>
<rect x="47" y="141.0" width="2" height="40.0" fill="#089981"/>
<rect x="50.4" y="122.0" width="1.2" height="29.0" fill="#089981"/>
<rect x="50" y="138.0" width="2" height="10.0" fill="#089981"/>
<rect x="52.4" y="123.0" width="1.2" height="41.0" fill="#f23645"/>
<rect x="52" y="141.0" width="2" height="20.0" fill="#f23645"/>
<rect x="54.4" y="119.0" width="1.2" height="49.0" fill="#089981"/>
<rect x="54" y="125.0" width="2" height="36.0" fill="#089981"/>
<rect x="57.4" y="119.0" width="1.2" height="37.0" fill="#f23645"/>
<rect x="57" y="125.0" width="2" height="28.0" fill="#f23645"/>
<rect x="59.4" y="146.0" width="1.2" height="38.0" fill="#f23645"/>
<rect x="59" y="153.0" width="2" height="18.0" fill="#f23645"/>
<rect x="62.4" y="168.0" width="1.2" height="22.0" fill="#089981"/>
<rect x="62" y="169.0" width="2" height="2.0" fill="#089981"/>
<rect x="64.4" y="169.0" width="1.2" height="23.0" fill="#f23645"/>
<rect x="64" y="170.0" width="2" height="13.0" fill="#f23645"/>
<rect x="67.4" y="171.0" width="1.2" height="21.0" fill="#089981"/>
<rect x="67" y="178.0" width="2" height="3.0" fill="#089981"/>
<rect x="69.4" y="177.0" width="1.2" height="11.0" fill="#f23645"/>
<rect x="69" y="178.0" width="2" height="6.0" fill="#f23645"/>
<rect x="71.4" y="182.0" width="1.2" height="60.0" fill="#f23645"/>
<rect x="71" y="184.0" width="2" height="23.0" fill="#f23645"/>
<rect x="74.4" y="200.0" width="1.2" height="24.0" fill="#089981"/>
<rect x="74" y="204.6" width="2" height="3.4" fill="#089981"/>
<rect x="76.4" y="193.0" width="1.2" height="36.0" fill="#089981"/>
<rect x="76" y="200.0" width="2" height="5.7" fill="#089981"/>
<rect x="79.4" y="195.0" width="1.2" height="22.6" fill="#089981"/>
<rect x="79" y="199.0" width="2" height="2.0" fill="#089981"/>
<rect x="81.4" y="119.0" width="1.2" height="84.0" fill="#089981"/>
<rect x="81" y="164.0" width="2" height="35.0" fill="#089981"/>
<rect x="84.4" y="163.0" width="1.2" height="22.0" fill="#f23645"/>
<rect x="84" y="164.0" width="2" height="16.0" fill="#f23645"/>
<rect x="86.4" y="172.0" width="1.2" height="16.0" fill="#f23645"/>
<rect x="86" y="180.0" width="2" height="4.0" fill="#f23645"/>
<rect x="88.4" y="181.0" width="1.2" height="30.6" fill="#f23645"/>
<rect x="88" y="183.0" width="2" height="7.0" fill="#f23645"/>
<rect x="91.4" y="139.0" width="1.2" height="67.8" fill="#089981"/>
<rect x="91" y="140.0" width="2" height="50.0" fill="#089981"/>
<rect x="93.4" y="105.0" width="1.2" height="45.0" fill="#089981"/>
<rect x="93" y="108.0" width="2" height="38.0" fill="#089981"/>
<rect x="96.4" y="66.0" width="1.2" height="46.0" fill="#089981"/>
<rect x="96" y="82.0" width="2" height="26.0" fill="#089981"/>
<rect x="98.4" y="50.0" width="1.2" height="40.0" fill="#089981"/>
<rect x="98" y="63.0" width="2" height="21.0" fill="#089981"/>
<rect x="101.4" y="62.0" width="1.2" height="16.0" fill="#f23645"/>
<rect x="101" y="64.0" width="2" height="7.0" fill="#f23645"/>
<rect x="103.4" y="65.0" width="1.2" height="31.0" fill="#f23645"/>
<rect x="103" y="71.0" width="2" height="14.0" fill="#f23645"/>
<rect x="105.4" y="64.0" width="1.2" height="37.0" fill="#089981"/>
<rect x="105" y="78.0" width="2" height="8.0" fill="#089981"/>
<rect x="108.4" y="71.0" width="1.2" height="35.0" fill="#f23645"/>
<rect x="108" y="78.0" width="2" height="8.0" fill="#f23645"/>
<rect x="110.4" y="74.0" width="1.2" height="23.0" fill="#089981"/>
<rect x="110" y="77.0" width="2" height="10.0" fill="#089981"/>
<rect x="113.4" y="68.0" width="1.2" height="26.0" fill="#f23645"/>
<rect x="113" y="78.0" width="2" height="4.0" fill="#f23645"/>
<rect x="115.4" y="52.0" width="1.2" height="34.0" fill="#089981"/>
<rect x="115" y="52.0" width="2" height="32.0" fill="#089981"/>
<rect x="118.4" y="32.0" width="1.2" height="25.0" fill="#089981"/>
<rect x="118" y="44.0" width="2" height="10.0" fill="#089981"/>
<rect x="120.4" y="48.0" width="1.2" height="34.0" fill="#f23645"/>
<rect x="120" y="51.0" width="2" height="30.0" fill="#f23645"/>
<rect x="122.4" y="0.0" width="1.2" height="90.0" fill="#089981"/>
<rect x="122" y="0.0" width="2" height="79.0" fill="#089981"/>
<rect x="176.4" y="0.0" width="1.2" height="64.0" fill="#f23645"/>
<rect x="176" y="0.0" width="2" height="61.0" fill="#f23645"/>
<rect x="178.4" y="59.0" width="1.2" height="88.0" fill="#f23645"/>
<rect x="178" y="61.0" width="2" height="56.0" fill="#f23645"/>
<rect x="181.4" y="55.0" width="1.2" height="96.0" fill="#f23645"/>
<rect x="181" y="117.0" width="2" height="12.0" fill="#f23645"/>
<rect x="183.4" y="115.0" width="1.2" height="63.0" fill="#f23645"/>
<rect x="183" y="129.0" width="2" height="28.0" fill="#f23645"/>
<rect x="185.4" y="155.0" width="1.2" height="31.0" fill="#f23645"/>
<rect x="185" y="156.0" width="2" height="17.0" fill="#f23645"/>
<rect x="188.4" y="153.0" width="1.2" height="27.0" fill="#089981"/>
<rect x="188" y="162.0" width="2" height="11.0" fill="#089981"/>
<rect x="190.4" y="156.0" width="1.2" height="34.0" fill="#f23645"/>
<rect x="190" y="161.0" width="2" height="20.0" fill="#f23645"/>
<rect x="193.4" y="174.0" width="1.2" height="28.0" fill="#f23645"/>
<rect x="193" y="181.0" width="2" height="7.0" fill="#f23645"/>
<rect x="195.4" y="177.0" width="1.2" height="63.0" fill="#f23645"/>
<rect x="195" y="187.0" width="2" height="23.0" fill="#f23645"/>
<rect x="198.4" y="195.0" width="1.2" height="26.0" fill="#089981"/>
<rect x="198" y="199.0" width="2" height="11.0" fill="#089981"/>
<rect x="200.4" y="190.0" width="1.2" height="38.0" fill="#f23645"/>
<rect x="200" y="199.0" width="2" height="6.0" fill="#f23645"/>
<rect x="202.4" y="202.0" width="1.2" height="22.0" fill="#f23645"/>
<rect x="202" y="203.0" width="2" height="5.0" fill="#f23645"/>
<rect x="205.4" y="148.0" width="1.2" height="67.0" fill="#089981"/>
<rect x="205" y="182.0" width="2" height="26.0" fill="#089981"/>
<rect x="207.4" y="176.0" width="1.2" height="27.0" fill="#f23645"/>
<rect x="207" y="182.0" width="2" height="10.0" fill="#f23645"/>
<rect x="210.4" y="176.0" width="1.2" height="27.0" fill="#089981"/>
<rect x="210" y="181.0" width="2" height="11.0" fill="#089981"/>
<rect x="212.4" y="172.0" width="1.2" height="37.0" fill="#f23645"/>
<rect x="212" y="181.0" width="2" height="14.0" fill="#f23645"/>
<rect x="215.4" y="186.0" width="1.2" height="33.0" fill="#f23645"/>
<rect x="215" y="195.0" width="2" height="15.0" fill="#f23645"/>
<rect x="217.4" y="199.0" width="1.2" height="19.0" fill="#f23645"/>
<rect x="217" y="203.0" width="2" height="8.0" fill="#f23645"/>
<rect x="219.4" y="191.0" width="1.2" height="23.0" fill="#089981"/>
<rect x="219" y="204.0" width="2" height="7.0" fill="#089981"/>
<rect x="222.4" y="200.0" width="1.2" height="9.0" fill="#f23645"/>
<rect x="222" y="203.0" width="2" height="3.0" fill="#f23645"/>
<rect x="224.4" y="189.0" width="1.2" height="24.0" fill="#089981"/>
<rect x="224" y="190.0" width="2" height="15.0" fill="#089981"/>
<rect x="227.4" y="189.0" width="1.2" height="30.0" fill="#f23645"/>
<rect x="227" y="190.0" width="2" height="13.0" fill="#f23645"/>
<rect x="229.4" y="202.0" width="1.2" height="8.0" fill="#f23645"/>
<rect x="229" y="204.0" width="2" height="3.0" fill="#f23645"/>
<rect x="232.4" y="0.0" width="1.2" height="212.0" fill="#089981"/>
<rect x="232" y="0.0" width="2" height="206.0" fill="#089981"/>
<rect x="316.4" y="-50.0" width="1.2" height="151.5" fill="#f23645"/>
<rect x="316" y="-40.0" width="2" height="10.0" fill="#f23645"/>
<rect x="445.4" y="-30.0" width="1.2" height="69.5" fill="#f23645"/>
<rect x="445" y="-20.0" width="2" height="10.0" fill="#f23645"/>
<rect x="452.4" y="-30.0" width="1.2" height="67.0" fill="#f23645"/>
<rect x="452" y="-20.0" width="2" height="10.0" fill="#f23645"/>
<rect x="462.4" y="0.0" width="1.2" height="94.0" fill="#f23645"/>
<rect x="462" y="0.0" width="2" height="57.0" fill="#f23645"/>
<rect x="464.4" y="56.0" width="1.2" height="27.0" fill="#f23645"/>
<rect x="464" y="58.0" width="2" height="13.0" fill="#f23645"/>
<rect x="467.4" y="64.0" width="1.2" height="30.0" fill="#f23645"/>
<rect x="467" y="71.0" width="2" height="5.0" fill="#f23645"/>
<rect x="469.4" y="0.0" width="1.2" height="104.0" fill="#089981"/>
<rect x="469" y="0.0" width="2" height="77.0" fill="#089981"/>
<rect x="472.4" y="0.0" width="1.2" height="75.0" fill="#f23645"/>
<rect x="472" y="0.0" width="2" height="66.0" fill="#f23645"/>
<rect x="474.4" y="0.0" width="1.2" height="73.0" fill="#089981"/>
<rect x="474" y="61.0" width="2" height="5.0" fill="#089981"/>
<rect x="477.4" y="56.0" width="1.2" height="17.0" fill="#089981"/>
<rect x="477" y="61.0" width="2" height="5.0" fill="#089981"/>
<rect x="479.4" y="56.0" width="1.2" height="120.0" fill="#f23645"/>
<rect x="479" y="61.0" width="2" height="65.0" fill="#f23645"/>
<rect x="481.4" y="98.0" width="1.2" height="88.0" fill="#f23645"/>
<rect x="481" y="126.0" width="2" height="6.0" fill="#f23645"/>
<rect x="484.4" y="132.0" width="1.2" height="40.0" fill="#f23645"/>
<rect x="484" y="132.0" width="2" height="29.0" fill="#f23645"/>
<rect x="486.4" y="133.0" width="1.2" height="42.0" fill="#089981"/>
<rect x="486" y="153.0" width="2" height="8.0" fill="#089981"/>
<rect x="489.4" y="132.0" width="1.2" height="39.0" fill="#f23645"/>
<rect x="489" y="153.0" width="2" height="15.0" fill="#f23645"/>
<rect x="491.4" y="163.0" width="1.2" height="11.0" fill="#f23645"/>
<rect x="491" y="166.0" width="2" height="3.0" fill="#f23645"/>
<rect x="493.4" y="148.0" width="1.2" height="26.0" fill="#089981"/>
<rect x="493" y="161.0" width="2" height="9.0" fill="#089981"/>
<rect x="496.4" y="108.0" width="1.2" height="57.0" fill="#089981"/>
<rect x="496" y="111.0" width="2" height="51.0" fill="#089981"/>
<rect x="498.4" y="33.0" width="1.2" height="95.0" fill="#089981"/>
<rect x="498" y="70.0" width="2" height="40.0" fill="#089981"/>
<rect x="501.4" y="39.0" width="1.2" height="59.0" fill="#f23645"/>
<rect x="501" y="70.0" width="2" height="9.0" fill="#f23645"/>
<rect x="503.4" y="41.0" width="1.2" height="49.0" fill="#089981"/>
<rect x="503" y="67.0" width="2" height="12.0" fill="#089981"/>
<rect x="506.4" y="20.0" width="1.2" height="56.0" fill="#089981"/>
<rect x="506" y="43.0" width="2" height="25.0" fill="#089981"/>
<rect x="508.4" y="38.0" width="1.2" height="17.0" fill="#f23645"/>
<rect x="508" y="44.0" width="2" height="9.0" fill="#f23645"/>
<rect x="510.4" y="0.0" width="1.2" height="54.0" fill="#089981"/>
<rect x="510" y="0.0" width="2" height="52.0" fill="#089981"/>
<rect x="520.4" y="-30.0" width="1.2" height="96.0" fill="#f23645"/>
<rect x="520" y="-20.0" width="2" height="10.0" fill="#f23645"/>
<rect x="523.4" y="0.0" width="1.2" height="70.6" fill="#f23645"/>
<rect x="523" y="0.0" width="2" height="42.0" fill="#f23645"/>
<rect x="525.4" y="0.0" width="1.2" height="67.7" fill="#089981"/>
<rect x="525" y="0.0" width="2" height="41.0" fill="#089981"/>
<rect x="527.4" y="-30.0" width="1.2" height="77.5" fill="#f23645"/>
<rect x="527" y="-20.0" width="2" height="10.0" fill="#f23645"/>
<rect x="530.4" y="-30.0" width="1.2" height="85.0" fill="#089981"/>
<rect x="530" y="-20.0" width="2" height="10.0" fill="#089981"/>
<rect x="532.4" y="0.0" width="1.2" height="92.0" fill="#f23645"/>
<rect x="532" y="0.0" width="2" height="39.4" fill="#f23645"/>
<rect x="535.4" y="33.0" width="1.2" height="54.0" fill="#f23645"/>
<rect x="535" y="39.4" width="2" height="44.6" fill="#f23645"/>
<rect x="537.4" y="59.0" width="1.2" height="59.0" fill="#f23645"/>
<rect x="537" y="84.0" width="2" height="15.6" fill="#f23645"/>
<rect x="540.4" y="82.0" width="1.2" height="63.0" fill="#f23645"/>
<rect x="540" y="99.0" width="2" height="14.0" fill="#f23645"/>
<rect x="542.4" y="110.0" width="1.2" height="38.0" fill="#f23645"/>
<rect x="542" y="111.0" width="2" height="6.0" fill="#f23645"/>
<rect x="544.4" y="79.0" width="1.2" height="51.0" fill="#089981"/>
<rect x="544" y="112.0" width="2" height="3.0" fill="#089981"/>
<rect x="547.4" y="102.0" width="1.2" height="43.0" fill="#f23645"/>
<rect x="547" y="112.0" width="2" height="30.0" fill="#f23645"/>
<rect x="549.4" y="126.0" width="1.2" height="58.0" fill="#f23645"/>
<rect x="549" y="142.7" width="2" height="13.3" fill="#f23645"/>
<rect x="552.4" y="132.0" width="1.2" height="26.0" fill="#089981"/>
<rect x="552" y="144.0" width="2" height="12.0" fill="#089981"/>
<rect x="554.4" y="107.0" width="1.2" height="39.0" fill="#089981"/>
<rect x="554" y="118.0" width="2" height="26.0" fill="#089981"/>
<rect x="557.4" y="113.0" width="1.2" height="37.0" fill="#f23645"/>
<rect x="557" y="118.0" width="2" height="15.0" fill="#f23645"/>
<rect x="559.4" y="130.0" width="1.2" height="10.0" fill="#089981"/>
<rect x="559" y="132.0" width="2" height="2.0" fill="#089981"/>
<rect x="561.4" y="95.0" width="1.2" height="51.0" fill="#f23645"/>
<rect x="561" y="132.0" width="2" height="3.0" fill="#f23645"/>
<rect x="564.4" y="134.0" width="1.2" height="24.0" fill="#f23645"/>
<rect x="564" y="135.0" width="2" height="17.0" fill="#f23645"/>
<rect x="566.4" y="141.0" width="1.2" height="29.0" fill="#f23645"/>
<rect x="566" y="152.0" width="2" height="8.0" fill="#f23645"/>
<rect x="569.4" y="156.0" width="1.2" height="14.0" fill="#f23645"/>
<rect x="569" y="157.0" width="2" height="5.0" fill="#f23645"/>
<rect x="571.4" y="160.0" width="1.2" height="20.0" fill="#089981"/>
<rect x="571" y="161.0" width="2" height="2.0" fill="#089981"/>
<rect x="574.4" y="159.0" width="1.2" height="33.0" fill="#f23645"/>
<rect x="574" y="163.0" width="2" height="18.0" fill="#f23645"/>
<rect x="576.4" y="178.0" width="1.2" height="16.0" fill="#f23645"/>
<rect x="576" y="180.0" width="2" height="11.0" fill="#f23645"/>
<rect x="578.4" y="165.0" width="1.2" height="38.0" fill="#f23645"/>
<rect x="578" y="188.0" width="2" height="13.0" fill="#f23645"/>
<rect x="581.4" y="198.0" width="1.2" height="120.0" fill="#f23645"/>
<rect x="581" y="200.0" width="2" height="54.0" fill="#f23645"/>
<rect x="583.4" y="253.0" width="1.2" height="72.0" fill="#f23645"/>
<rect x="583" y="254.0" width="2" height="60.0" fill="#f23645"/>
<rect x="586.4" y="264.0" width="1.2" height="54.0" fill="#089981"/>
<rect x="586" y="272.0" width="2" height="42.0" fill="#089981"/>
<rect x="588.4" y="250.0" width="1.2" height="44.0" fill="#089981"/>
<rect x="588" y="255.0" width="2" height="18.0" fill="#089981"/>
<rect x="590.4" y="215.0" width="1.2" height="43.0" fill="#089981"/>
<rect x="590" y="227.0" width="2" height="28.0" fill="#089981"/>
<rect x="593.4" y="184.0" width="1.2" height="64.0" fill="#f23645"/>
<rect x="593" y="227.0" width="2" height="13.0" fill="#f23645"/>
<rect x="595.4" y="221.0" width="1.2" height="32.0" fill="#089981"/>
<rect x="595" y="236.0" width="2" height="4.0" fill="#089981"/>
<rect x="598.4" y="227.0" width="1.2" height="52.0" fill="#f23645"/>
<rect x="598" y="236.0" width="2" height="9.0" fill="#f23645"/>
<rect x="600.4" y="241.0" width="1.2" height="19.0" fill="#f23645"/>
<rect x="600" y="244.0" width="2" height="6.0" fill="#f23645"/>
<rect x="603.4" y="248.0" width="1.2" height="31.0" fill="#f23645"/>
<rect x="603" y="250.0" width="2" height="22.0" fill="#f23645"/>
<rect x="605.4" y="258.0" width="1.2" height="21.0" fill="#089981"/>
<rect x="605" y="268.5" width="2" height="3.5" fill="#089981"/>
<rect x="607.4" y="246.0" width="1.2" height="27.0" fill="#089981"/>
<rect x="607" y="268.0" width="2" height="2.0" fill="#089981"/>
<rect x="610.4" y="263.5" width="1.2" height="12.1" fill="#089981"/>
<rect x="610" y="266.7" width="2" height="1.3" fill="#089981"/>
<rect x="612.4" y="256.0" width="1.2" height="14.0" fill="#089981"/>
<rect x="612" y="264.0" width="2" height="4.0" fill="#089981"/>
<rect x="615.4" y="255.0" width="1.2" height="46.0" fill="#f23645"/>
<rect x="615" y="264.0" width="2" height="30.0" fill="#f23645"/>
<rect x="617.4" y="290.0" width="1.2" height="22.0" fill="#f23645"/>
<rect x="617" y="293.0" width="2" height="4.0" fill="#f23645"/>
<rect x="620.4" y="281.0" width="1.2" height="36.0" fill="#f23645"/>
<rect x="620" y="297.0" width="2" height="10.0" fill="#f23645"/>
<rect x="622.4" y="301.0" width="1.2" height="18.0" fill="#089981"/>
<rect x="622" y="303.0" width="2" height="7.0" fill="#089981"/>
<rect x="624.4" y="288.0" width="1.2" height="30.6" fill="#f23645"/>
<rect x="624" y="303.0" width="2" height="2.0" fill="#f23645"/>
<rect x="627.4" y="294.0" width="1.2" height="21.0" fill="#f23645"/>
<rect x="627" y="305.0" width="2" height="3.0" fill="#f23645"/>
<rect x="629.4" y="286.0" width="1.2" height="28.0" fill="#089981"/>
<rect x="629" y="301.0" width="2" height="6.0" fill="#089981"/>
<rect x="632.4" y="240.5" width="1.2" height="65.5" fill="#089981"/>
<rect x="632" y="257.0" width="2" height="46.0" fill="#089981"/>
<rect x="634.4" y="252.0" width="1.2" height="31.0" fill="#f23645"/>
<rect x="634" y="257.0" width="2" height="15.0" fill="#f23645"/>
<rect x="637.4" y="252.0" width="1.2" height="26.0" fill="#089981"/>
<rect x="637" y="272.0" width="2" height="2.0" fill="#089981"/>
<rect x="639.4" y="231.0" width="1.2" height="46.0" fill="#089981"/>
<rect x="639" y="251.0" width="2" height="24.0" fill="#089981"/>
<rect x="641.4" y="250.0" width="1.2" height="18.0" fill="#f23645"/>
<rect x="641" y="251.0" width="2" height="8.5" fill="#f23645"/>
<rect x="644.4" y="253.0" width="1.2" height="15.0" fill="#f23645"/>
<rect x="644" y="259.5" width="2" height="4.5" fill="#f23645"/>
<rect x="646.4" y="263.0" width="1.2" height="31.0" fill="#f23645"/>
<rect x="646" y="264.0" width="2" height="15.0" fill="#f23645"/>
<rect x="649.4" y="277.0" width="1.2" height="26.0" fill="#f23645"/>
<rect x="649" y="278.0" width="2" height="23.6" fill="#f23645"/>
<rect x="651.4" y="300.0" width="1.2" height="38.0" fill="#f23645"/>
<rect x="651" y="301.6" width="2" height="27.0" fill="#f23645"/>
<rect x="654.4" y="284.7" width="1.2" height="178.1" fill="#f23645"/>
<rect x="654" y="328.6" width="2" height="50.1" fill="#f23645"/>
</g>
<line x1="17" y1="176.3" x2="1150" y2="176.3" stroke="#f2a11f" stroke-width="1.8"/>
<line x1="17" y1="241.5" x2="1150" y2="241.5" stroke="#f2a11f" stroke-width="1.8"/>
<line x1="462.4" y1="94.6" x2="1150" y2="94.6" stroke="#9c27b0" stroke-width="1.8"/>
<line x1="17" y1="364.8" x2="1150" y2="364.8" stroke="#bd9626" stroke-width="1.8"/>
<line x1="17" y1="378.8" x2="1150" y2="378.8" stroke="#f23645" stroke-width="1" stroke-dasharray="1 1" opacity="0.55"/>
<text x="1196" y="59.0" font-size="10.5" fill="#40434d" text-anchor="end" font-weight="normal" textLength="41" lengthAdjust="spacingAndGlyphs" stroke="#40434d" stroke-width="0.22">0.00001750</text>
<text x="1196" y="96.8" font-size="10.5" fill="#40434d" text-anchor="end" font-weight="normal" textLength="41" lengthAdjust="spacingAndGlyphs" stroke="#40434d" stroke-width="0.22">0.00001700</text>
<text x="1196" y="134.7" font-size="10.5" fill="#40434d" text-anchor="end" font-weight="normal" textLength="41" lengthAdjust="spacingAndGlyphs" stroke="#40434d" stroke-width="0.22">0.00001650</text>
<text x="1196" y="172.5" font-size="10.5" fill="#40434d" text-anchor="end" font-weight="normal" textLength="41" lengthAdjust="spacingAndGlyphs" stroke="#40434d" stroke-width="0.22">0.00001600</text>
<text x="1196" y="210.3" font-size="10.5" fill="#40434d" text-anchor="end" font-weight="normal" textLength="41" lengthAdjust="spacingAndGlyphs" stroke="#40434d" stroke-width="0.22">0.00001550</text>
<text x="1196" y="248.2" font-size="10.5" fill="#40434d" text-anchor="end" font-weight="normal" textLength="41" lengthAdjust="spacingAndGlyphs" stroke="#40434d" stroke-width="0.22">0.00001500</text>
<text x="1196" y="286.0" font-size="10.5" fill="#40434d" text-anchor="end" font-weight="normal" textLength="41" lengthAdjust="spacingAndGlyphs" stroke="#40434d" stroke-width="0.22">0.00001450</text>
<text x="1196" y="323.9" font-size="10.5" fill="#40434d" text-anchor="end" font-weight="normal" textLength="41" lengthAdjust="spacingAndGlyphs" stroke="#40434d" stroke-width="0.22">0.00001400</text>
<text x="1196" y="361.7" font-size="10.5" fill="#40434d" text-anchor="end" font-weight="normal" textLength="41" lengthAdjust="spacingAndGlyphs" stroke="#40434d" stroke-width="0.22">0.00001350</text>
<text x="1196" y="399.5" font-size="10.5" fill="#40434d" text-anchor="end" font-weight="normal" textLength="41" lengthAdjust="spacingAndGlyphs" stroke="#40434d" stroke-width="0.22">0.00001300</text>
<text x="1196" y="437.4" font-size="10.5" fill="#40434d" text-anchor="end" font-weight="normal" textLength="41" lengthAdjust="spacingAndGlyphs" stroke="#40434d" stroke-width="0.22">0.00001250</text>
<text x="1196" y="475.2" font-size="10.5" fill="#40434d" text-anchor="end" font-weight="normal" textLength="41" lengthAdjust="spacingAndGlyphs" stroke="#40434d" stroke-width="0.22">0.00001200</text>
<text x="1196" y="513.0" font-size="10.5" fill="#40434d" text-anchor="end" font-weight="normal" textLength="41" lengthAdjust="spacingAndGlyphs" stroke="#40434d" stroke-width="0.22">0.00001150</text>
<text x="1196" y="550.9" font-size="10.5" fill="#40434d" text-anchor="end" font-weight="normal" textLength="41" lengthAdjust="spacingAndGlyphs" stroke="#40434d" stroke-width="0.22">0.00001100</text>
<text x="1196" y="588.7" font-size="10.5" fill="#40434d" text-anchor="end" font-weight="normal" textLength="41" lengthAdjust="spacingAndGlyphs" stroke="#40434d" stroke-width="0.22">0.00001050</text>
<text x="1196" y="626.6" font-size="10.5" fill="#40434d" text-anchor="end" font-weight="normal" textLength="41" lengthAdjust="spacingAndGlyphs" stroke="#40434d" stroke-width="0.22">0.00001000</text>
<text x="1196" y="664.4" font-size="10.5" fill="#40434d" text-anchor="end" font-weight="normal" textLength="41" lengthAdjust="spacingAndGlyphs" stroke="#40434d" stroke-width="0.22">0.00000950</text>
<rect x="1149.5" y="88" width="50.5" height="14" fill="#9c27b0"/>
<text x="1155" y="98.6" font-size="10.5" fill="#ffffff" text-anchor="start" font-weight="normal" textLength="41" lengthAdjust="spacingAndGlyphs" stroke="#ffffff" stroke-width="0.22">0.00001697</text>
<rect x="1149.5" y="169.5" width="50.5" height="14.0" fill="#ff9800"/>
<text x="1155" y="180.1" font-size="10.5" fill="#131722" text-anchor="start" font-weight="normal" textLength="41" lengthAdjust="spacingAndGlyphs" stroke="#131722" stroke-width="0.22">0.00001590</text>
<rect x="1149.5" y="234.5" width="50.5" height="14.0" fill="#ff9800"/>
<text x="1155" y="245.1" font-size="10.5" fill="#131722" text-anchor="start" font-weight="normal" textLength="41" lengthAdjust="spacingAndGlyphs" stroke="#131722" stroke-width="0.22">0.00001504</text>
<rect x="1149.5" y="357.7" width="50.5" height="14.0" fill="#c59a10"/>
<text x="1155" y="368.3" font-size="10.5" fill="#fff8d8" text-anchor="start" font-weight="normal" textLength="41" lengthAdjust="spacingAndGlyphs" stroke="#fff8d8" stroke-width="0.22">0.00001340</text>
<rect x="1149.5" y="371.7" width="50.5" height="25.600000000000023" fill="#f23645"/>
<text x="1155" y="381.7" font-size="10.5" fill="#ffffff" text-anchor="start" font-weight="normal" textLength="41" lengthAdjust="spacingAndGlyphs" stroke="#ffffff" stroke-width="0.22">0.00001323</text>
<text x="1155" y="394.5" font-size="10.5" fill="#ffffff" text-anchor="start" font-weight="normal" textLength="31" lengthAdjust="spacingAndGlyphs" stroke="#ffffff" stroke-width="0.22">11:07:39</text>
<rect x="1149.5" y="642.2" width="38.5" height="13.9" fill="#ef5350"/>
<text x="1154.5" y="652.8" font-size="10.5" fill="#ffffff" text-anchor="start" font-weight="normal" textLength="29" lengthAdjust="spacingAndGlyphs" stroke="#ffffff" stroke-width="0.22">35.341M</text>
<rect x="1149.5" y="656.1" width="38.5" height="13.9" fill="#f89548"/>
<text x="1154.5" y="666.7" font-size="10.5" fill="#131722" text-anchor="start" font-weight="normal" textLength="29" lengthAdjust="spacingAndGlyphs" stroke="#131722" stroke-width="0.22">21.988M</text>
<text x="54.9" y="692.2" font-size="10" fill="#40434d" text-anchor="middle" font-weight="normal" textLength="13.98" lengthAdjust="spacingAndGlyphs" stroke="#40434d" stroke-width="0.22">May</text>
<text x="130.6" y="692.2" font-size="10" fill="#40434d" text-anchor="middle" font-weight="normal" textLength="11.93" lengthAdjust="spacingAndGlyphs" stroke="#40434d" stroke-width="0.22">Jun</text>
<text x="203.2" y="692.2" font-size="10" fill="#40434d" text-anchor="middle" font-weight="normal" textLength="9.46" lengthAdjust="spacingAndGlyphs" stroke="#40434d" stroke-width="0.22">Jul</text>
<text x="278.2" y="692.2" font-size="10" fill="#40434d" text-anchor="middle" font-weight="normal" textLength="13.17" lengthAdjust="spacingAndGlyphs" stroke="#40434d" stroke-width="0.22">Aug</text>
<text x="353.5" y="692.2" font-size="10" fill="#40434d" text-anchor="middle" font-weight="normal" textLength="13.17" lengthAdjust="spacingAndGlyphs" stroke="#40434d" stroke-width="0.22">Sep</text>
<text x="426.2" y="692.2" font-size="10" fill="#40434d" text-anchor="middle" font-weight="normal" textLength="11.51" lengthAdjust="spacingAndGlyphs" stroke="#40434d" stroke-width="0.22">Oct</text>
<text x="501.7" y="692.2" font-size="10" fill="#40434d" text-anchor="middle" font-weight="normal" textLength="13.16" lengthAdjust="spacingAndGlyphs" stroke="#40434d" stroke-width="0.22">Nov</text>
<text x="574.1" y="692.2" font-size="10" fill="#40434d" text-anchor="middle" font-weight="normal" textLength="13.16" lengthAdjust="spacingAndGlyphs" stroke="#40434d" stroke-width="0.22">Dec</text>
<text x="649.5" y="692.2" font-size="10.5" fill="#1e222d" text-anchor="middle" font-weight="normal" textLength="19" lengthAdjust="spacingAndGlyphs" stroke="#1e222d" stroke-width="0.25">2024</text>
<text x="724.3" y="692.2" font-size="10" fill="#40434d" text-anchor="middle" font-weight="normal" textLength="12.75" lengthAdjust="spacingAndGlyphs" stroke="#40434d" stroke-width="0.22">Feb</text>
<text x="794.6" y="692.2" font-size="10" fill="#40434d" text-anchor="middle" font-weight="normal" textLength="12.74" lengthAdjust="spacingAndGlyphs" stroke="#40434d" stroke-width="0.22">Mar</text>
<text x="870" y="692.2" font-size="10" fill="#40434d" text-anchor="middle" font-weight="normal" textLength="11.52" lengthAdjust="spacingAndGlyphs" stroke="#40434d" stroke-width="0.22">Apr</text>
<text x="943" y="692.2" font-size="10" fill="#40434d" text-anchor="middle" font-weight="normal" textLength="13.98" lengthAdjust="spacingAndGlyphs" stroke="#40434d" stroke-width="0.22">May</text>
<text x="1018.2" y="692.2" font-size="10" fill="#40434d" text-anchor="middle" font-weight="normal" textLength="11.93" lengthAdjust="spacingAndGlyphs" stroke="#40434d" stroke-width="0.22">Jun</text>
<text x="1090.3" y="692.2" font-size="10" fill="#40434d" text-anchor="middle" font-weight="normal" textLength="9.46" lengthAdjust="spacingAndGlyphs" stroke="#40434d" stroke-width="0.22">Jul</text>
<ellipse cx="654.65" cy="666.4" rx="6.15" ry="7.85" fill="#fff" stroke="#9c27b0" stroke-width="1.3"/>
<path d="M656.5,662.0 L651.9,666.9 L654.5,666.9 L652.6,670.9 L657.1,665.9 L654.5,665.9 Z" fill="#9c27b0" stroke="#9c27b0" stroke-width="0.4" stroke-linejoin="round"/>
<text x="16.8" y="26" font-size="10.5" fill="#3a3d45" text-anchor="start" font-weight="normal" textLength="227.8" lengthAdjust="spacingAndGlyphs" stroke="#3a3d45" stroke-width="0.22">Den767 published on TradingView.com, Jan 03, 2024 12:52 UTC</text>
<path d="M16.6,711 H22.2 V718.9 H19.8 V713.5 H16.6 Z" fill="#131722"/>
<circle cx="24.1" cy="712.3" r="1.25" fill="#131722"/>
<path d="M26.1,711 H29.8 L26.6,718.9 H23.2 Z" fill="#131722"/>
<text x="32.6" y="718.9" font-size="11" fill="#3a3d45" text-anchor="start" font-weight="normal" textLength="46.8" lengthAdjust="spacingAndGlyphs" stroke="#3a3d45" stroke-width="0.22">TradingView</text>
</svg></body></html>
